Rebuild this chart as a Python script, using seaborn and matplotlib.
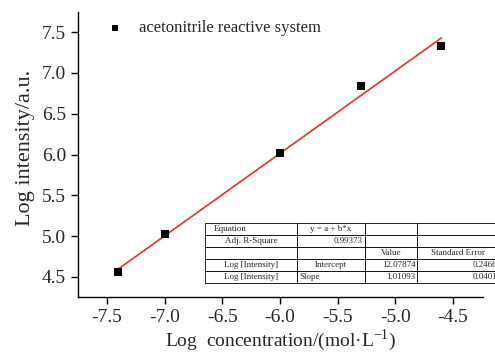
import matplotlib
matplotlib.use("Agg")
import matplotlib.pyplot as plt
import seaborn as sns
import numpy as np
import pandas as pd

log_conc = [-7.4, -7.0, -6.0, -5.3, -4.6]
log_int = [4.56, 5.02, 6.02, 6.84, 7.33]
intercept = 12.07874
slope = 1.01093
series_label = "acetonitrile reactive system"
xticks = [-7.5, -7.0, -6.5, -6.0, -5.5, -5.0, -4.5]
yticks = [4.5, 5.0, 5.5, 6.0, 6.5, 7.0, 7.5]
table_rows = [
    ["Equation", "y = a + b*x", "", ""],
    ["Adj. R-Square", "0.99373", "", ""],
    ["", "", "Value", "Standard Error"],
    ["Log [Intensity]", "Intercept", "12.07874", "0.2466"],
    ["Log [Intensity]", "Slope", "1.01093", "0.0401"],
]

sns.set_style("ticks")
plt.rcParams['font.family'] = ['Liberation Serif', 'DejaVu Serif']
plt.rcParams['mathtext.fontset'] = 'custom'
plt.rcParams['mathtext.rm'] = 'Liberation Serif'

fig = plt.figure(figsize=(4.95, 3.52), dpi=100)
ax = fig.add_axes([78/495, 55/352, (483-78)/495, (297-12)/352])

df = pd.DataFrame({"x": log_conc, "y": log_int})
fit_x = np.array([min(log_conc), max(log_conc)])
fit_df = pd.DataFrame({"x": fit_x, "y": intercept + slope * fit_x})
sns.lineplot(data=fit_df, x="x", y="y", color="#e8302a", lw=1.2, ax=ax)
sns.scatterplot(data=df, x="x", y="y", marker="s", color="black", s=30,
                edgecolor="black", linewidth=0, label=series_label, ax=ax, zorder=3)

ax.set_xlim(-7.75, -4.24)
ax.set_ylim(4.254, 7.746)
ax.set_xticks(xticks)
ax.set_xticklabels([f"{t:.1f}" for t in xticks])
ax.set_yticks(yticks)
ax.set_yticklabels([f"{t:.1f}" for t in yticks])
ax.tick_params(axis="both", labelsize=14, length=5, width=1, direction="out", color="black")
for s in ["top", "right"]:
    ax.spines[s].set_visible(False)
for s in ["left", "bottom"]:
    ax.spines[s].set_linewidth(1.0)
    ax.spines[s].set_color("black")
ax.set_xlabel("Log  concentration/(mol·L$^{\\mathregular{-1}}$)", fontsize=14, labelpad=1)
ax.set_ylabel("Log intensity/a.u.", fontsize=16, labelpad=5)
ax.yaxis.label.set_y(0.525)

leg = ax.legend(loc="upper left", frameon=False, fontsize=12, markerscale=0.7,
                handlelength=1.0, handletextpad=0.93, borderpad=0, borderaxespad=0,
                bbox_to_anchor=(106.7/495, 1 - 20/352), bbox_transform=fig.transFigure)

# table
tax = fig.add_axes([205/495, (352-283)/352, (500-205)/495, 60/352])
tax.axis("off")
col_w = [92, 68, 52, 83]
col_w = [c / sum(col_w) for c in col_w]
tbl = tax.table(cellText=table_rows, colWidths=col_w, bbox=[0, 0, 1, 1], cellLoc="center")
tbl.auto_set_font_size(False)
tbl.set_fontsize(6.5)
aligns = {(1, 1): "right", (3, 2): "right", (3, 3): "right", (4, 2): "right",
          (4, 3): "right", (4, 1): "left", (0, 0): "left"}
for (r, c), cell in tbl.get_celld().items():
    cell.set_linewidth(0.6)
    cell.set_edgecolor("black")
    cell.set_facecolor("white")
    cell.PAD = 0.03
    if (r, c) in aligns:
        cell._loc = aligns[(r, c)]
        cell.get_text().set_ha(aligns[(r, c)])
tbl[(0, 0)].PAD = 0.1

fig.savefig("out.png", dpi=100)
